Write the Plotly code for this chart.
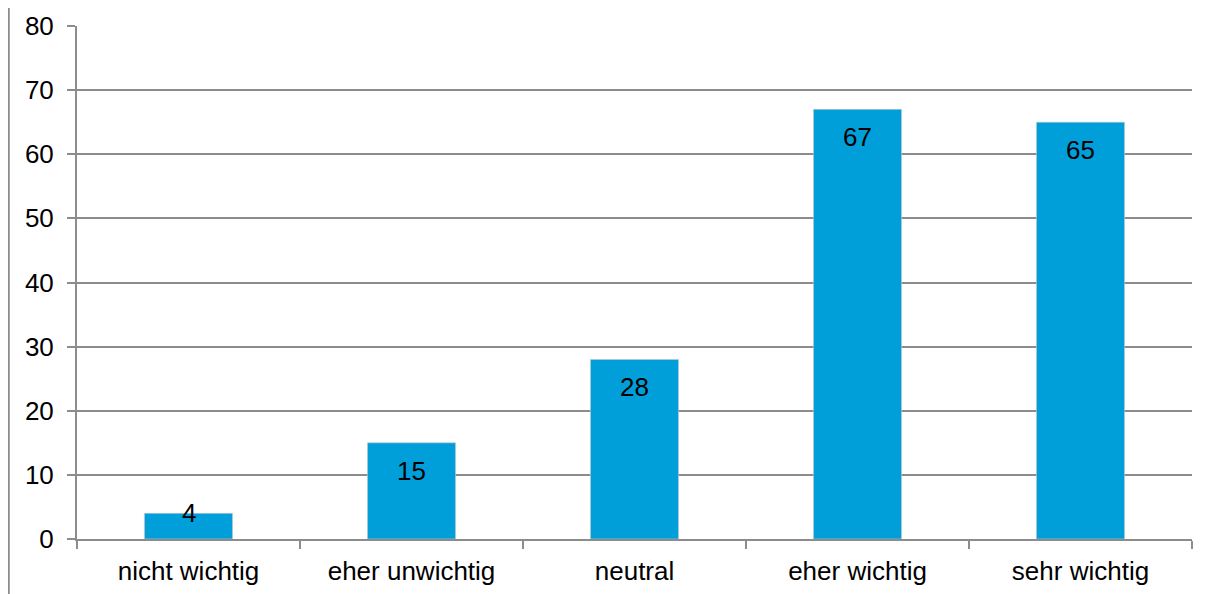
import plotly.graph_objects as go

categories = ['nicht wichtig', 'eher unwichtig', 'neutral', 'eher wichtig', 'sehr wichtig']
values = [4, 15, 28, 67, 65]

bar_color = '#009FDA'
grid_color = '#8C8C8C'
font_family = 'Liberation Sans, Arial, sans-serif'

fig = go.Figure()
fig.add_trace(go.Bar(x=categories, y=values, width=0.395,
                     marker=dict(color=bar_color,
                                 line=dict(color='rgba(200,200,200,0.6)', width=1)),
                     hoverinfo='x+y'))

# value labels near the top of each bar (small bars: centred on the top edge)
for cat, val in zip(categories, values):
    fig.add_annotation(x=cat, y=val, text=str(val), showarrow=False,
                       yanchor='middle', yshift=-28 if val > 7 else 0,
                       font=dict(size=26, color='black', family=font_family))

# thin frame line at the far left
fig.add_shape(type='line', xref='paper', yref='paper',
              x0=-0.0612, x1=-0.0612, y0=-0.2, y1=1.1,
              line=dict(color=grid_color, width=2))

fig.update_layout(
    width=1212, height=586,
    margin=dict(l=69, r=28, t=18, b=55),
    paper_bgcolor='white', plot_bgcolor='white',
    showlegend=False,
    font=dict(family=font_family, size=26, color='black'),
    xaxis=dict(showline=True, linecolor=grid_color, linewidth=2,
               ticks='outside', tickson='boundaries', ticklen=8,
               tickcolor=grid_color, tickwidth=2, showgrid=False,
               automargin=False, ticklabelstandoff=8, tickfont=dict(size=26)),
    yaxis=dict(range=[0, 80], dtick=10, showline=True, linecolor=grid_color,
               linewidth=2, ticks='outside', ticklen=8, tickcolor=grid_color,
               tickwidth=2, showgrid=True, gridcolor=grid_color, gridwidth=2,
               zeroline=False, automargin=False, ticklabelstandoff=8,
               tickfont=dict(size=26)),
)

fig.write_html('out.html')
